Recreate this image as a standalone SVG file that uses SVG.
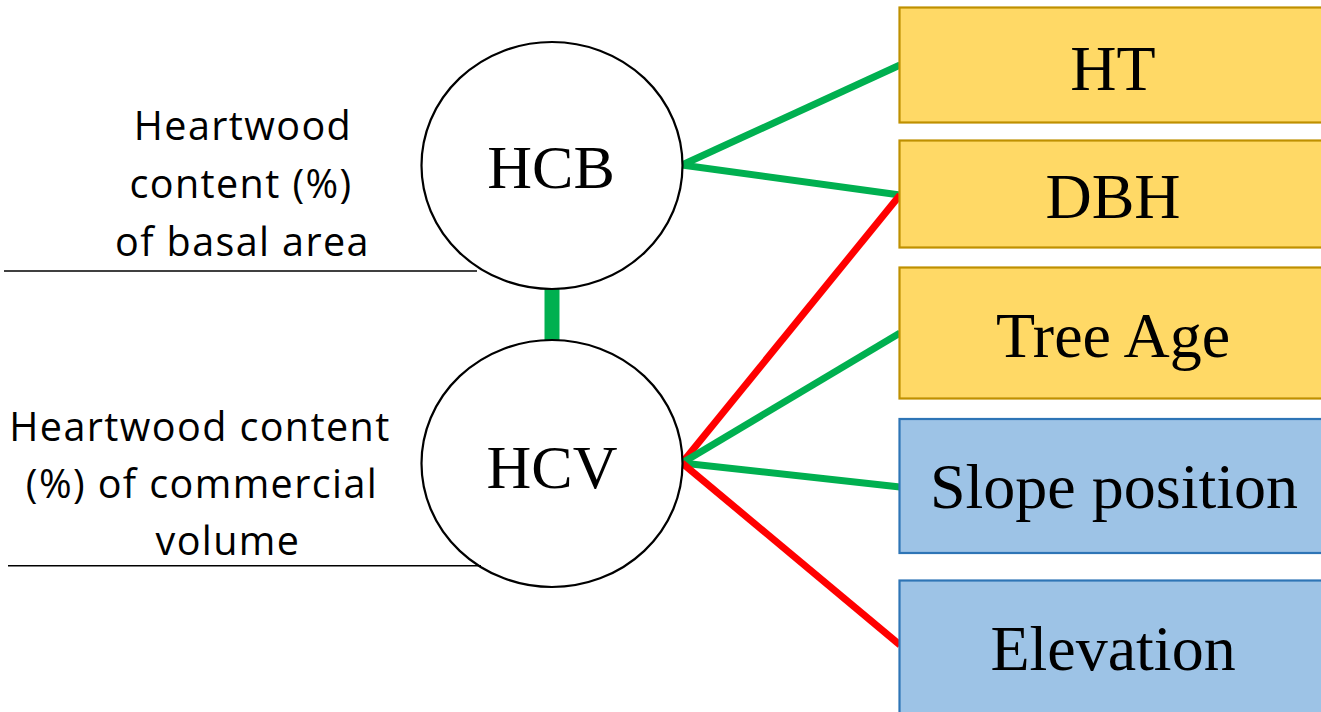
<svg xmlns="http://www.w3.org/2000/svg" width="1321" height="712" viewBox="0 0 1321 712">
  <style>
    .latent { fill: #ffffff; stroke: #000000; stroke-width: 2.2; }
    .latent-label { font-family: "Liberation Serif", "Times New Roman", serif; font-size: 62px; fill: #000000; text-anchor: middle; }
    .desc { font-family: "Open Sans", "Noto Sans", sans-serif; font-size: 39.5px; fill: #000000; text-anchor: middle; letter-spacing: 1.4px; }
    .rule { stroke: #000000; stroke-width: 1.4; }
    .tree { fill: #ffd966; stroke: #bf9000; stroke-width: 2.2; }
    .site { fill: #9dc3e6; stroke: #2e75b6; stroke-width: 2.2; }
    .box-label { font-family: "Liberation Serif", "Times New Roman", serif; font-size: 64px; fill: #000000; text-anchor: middle; }
    .pos { stroke: #00b050; stroke-width: 7; stroke-linecap: butt; fill: none; }
    .neg { stroke: #ff0000; stroke-width: 7; stroke-linecap: butt; fill: none; }
  </style>

  <!-- connectors -->
  <g id="connectors">
    <line class="pos" x1="552" y1="289" x2="552" y2="340" style="stroke-width:15"/>
    <line class="pos" x1="682" y1="165" x2="900" y2="65"/>
    <line class="pos" x1="682" y1="165" x2="900" y2="195"/>
    <line class="neg" x1="900" y1="195" x2="682" y2="463"/>
    <line class="pos" x1="682" y1="463" x2="900" y2="333"/>
    <line class="pos" x1="682" y1="463" x2="900" y2="487"/>
    <line class="neg" x1="682" y1="463" x2="900" y2="645"/>
  </g>

  <!-- latent variables -->
  <g id="node-hcb">
    <ellipse class="latent" cx="552" cy="165.5" rx="130.5" ry="123.5"/>
    <text class="latent-label" x="551" y="188">HCB</text>
  </g>
  <g id="node-hcv">
    <ellipse class="latent" cx="552" cy="463.5" rx="130.5" ry="123.5"/>
    <text class="latent-label" x="552" y="488">HCV</text>
  </g>

  <!-- descriptions of latent variables -->
  <g id="desc-hcb">
    <text class="desc" x="243" y="139.5">Heartwood</text>
    <text class="desc" x="241" y="197.5">content (%)</text>
    <text class="desc" x="242.5" y="255.5">of basal area</text>
    <line class="rule" x1="4" y1="271" x2="477" y2="271"/>
  </g>
  <g id="desc-hcv">
    <text class="desc" x="200" y="440.5">Heartwood content</text>
    <text class="desc" x="202" y="498">(%) of commercial</text>
    <text class="desc" x="228" y="555">volume</text>
    <line class="rule" x1="8" y1="565.7" x2="481" y2="565.7"/>
  </g>

  <!-- observed variables -->
  <g id="node-ht">
    <rect class="tree" x="899.5" y="7.5" width="430" height="115"/>
    <text class="box-label" x="1113" y="90">HT</text>
  </g>
  <g id="node-dbh">
    <rect class="tree" x="899.5" y="140.5" width="430" height="107"/>
    <text class="box-label" x="1113" y="218">DBH</text>
  </g>
  <g id="node-tree-age">
    <rect class="tree" x="899.5" y="267.5" width="430" height="131"/>
    <text class="box-label" x="1113" y="357">Tree Age</text>
  </g>
  <g id="node-slope">
    <rect class="site" x="899.5" y="419" width="430" height="134"/>
    <text class="box-label" x="1114" y="508">Slope position</text>
  </g>
  <g id="node-elevation">
    <rect class="site" x="899.5" y="580.5" width="430" height="140"/>
    <text class="box-label" x="1113" y="670">Elevation</text>
  </g>
</svg>
